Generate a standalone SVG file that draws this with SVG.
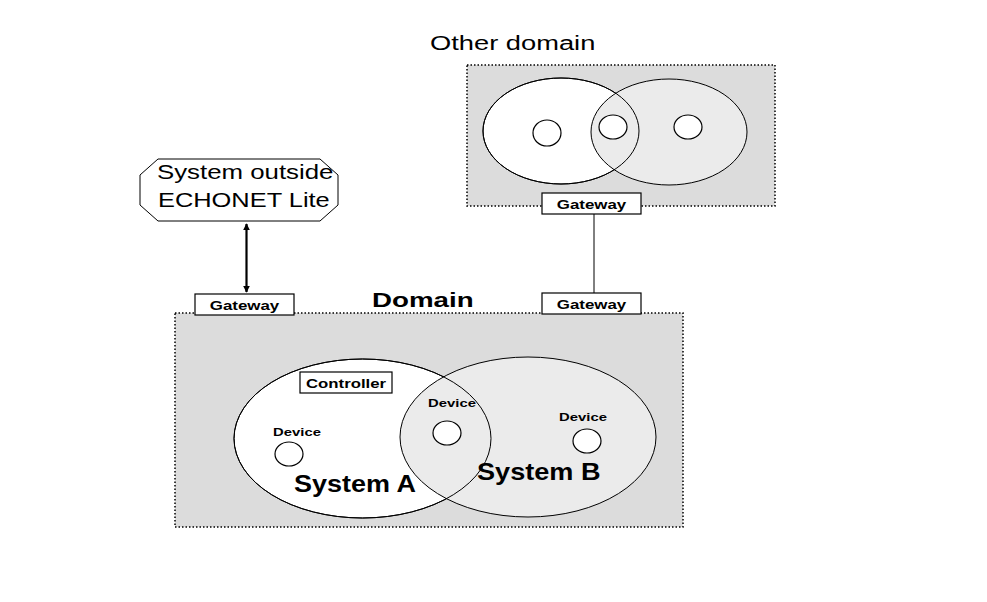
<svg xmlns="http://www.w3.org/2000/svg" width="987" height="602" viewBox="0 0 987 602">
<style>
text{font-family:"Liberation Sans",Arial,sans-serif;fill:#000}
.b{font-weight:bold}
.dom{fill:#dcdcdc;stroke:#000;stroke-width:1.5;stroke-dasharray:1.5 2}
.box{fill:#fff;stroke:#000;stroke-width:1.2}
.el{stroke:#000;stroke-width:1}
.c{fill:#fff;stroke:#000;stroke-width:1.2}
.gw{font-size:13px;font-weight:bold;text-anchor:middle}
.dv{font-size:11.5px;font-weight:bold;text-anchor:middle}
</style>
<defs>
<marker id="ah" viewBox="0 0 10 10" refX="9" refY="5" markerWidth="3" markerHeight="3" orient="auto-start-reverse">
<path d="M0,0 L10,5 L0,10 z" fill="#000"/>
</marker>
</defs>
<rect width="987" height="602" fill="#fff"/>

<g id="other-domain">
<text transform="translate(430,50) scale(1.3,1)" font-size="21">Other domain</text>
<rect class="dom" x="467" y="65" width="308" height="141"/>
<ellipse cx="561" cy="131" rx="78" ry="53" fill="#fff" class="el"/>
<ellipse cx="669" cy="132" rx="78" ry="53" fill="#ebebeb" class="el"/>
<ellipse cx="561" cy="131" rx="78" ry="53" fill="none" class="el"/>
<ellipse class="c" cx="547" cy="133" rx="14" ry="13"/>
<ellipse class="c" cx="613" cy="127" rx="14" ry="12"/>
<ellipse class="c" cx="688" cy="127" rx="14" ry="12"/>
</g>

<g id="gateway-other">
<rect class="box" x="542" y="193" width="99" height="21"/>
<text class="gw" transform="translate(591.5,209) scale(1.3,1)">Gateway</text>
</g>

<g id="outside-system">
<polygon points="158,159 320,159 338,175 338,205 320,221 158,221 140,205 140,175" fill="#fff" stroke="#000" stroke-width="1"/>
<text transform="translate(157,179) scale(1.23,1)" font-size="21">System outside</text>
<text transform="translate(158,207) scale(1.21,1)" font-size="21">ECHONET Lite</text>
</g>

<g id="domain">
<rect class="dom" x="175" y="313" width="508" height="214"/>
<text class="b" transform="translate(372,307) scale(1.32,1)" font-size="21">Domain</text>
</g>

<g id="system-a">
<ellipse cx="362.5" cy="438.5" rx="128.5" ry="79.5" fill="#fff" class="el"/>
</g>
<g id="system-b">
<ellipse cx="528" cy="437" rx="128" ry="80" fill="#ebebeb" class="el"/>
</g>
<g id="system-a-outline">
<ellipse cx="362.5" cy="438.5" rx="128.5" ry="79.5" fill="none" class="el"/>
<text class="b" transform="translate(294,492) scale(1.125,1)" font-size="24">System A</text>
</g>
<g id="system-b-label">
<text class="b" transform="translate(477,480) scale(1.13,1)" font-size="24">System B</text>
</g>

<g id="controller">
<rect class="box" x="300" y="372" width="92" height="21"/>
<text class="gw" transform="translate(346,388) scale(1.29,1)">Controller</text>
</g>

<g id="device-a">
<text class="dv" transform="translate(297,436) scale(1.29,1)">Device</text>
<ellipse class="c" cx="289" cy="454" rx="14" ry="12"/>
</g>
<g id="device-ab">
<text class="dv" transform="translate(452,407) scale(1.29,1)">Device</text>
<ellipse class="c" cx="447" cy="433" rx="14" ry="12"/>
</g>
<g id="device-b">
<text class="dv" transform="translate(583,421) scale(1.29,1)">Device</text>
<ellipse class="c" cx="587" cy="441" rx="14" ry="12"/>
</g>

<g id="gateway-left">
<rect class="box" x="195" y="294" width="99" height="21"/>
<text class="gw" transform="translate(244.5,310) scale(1.3,1)">Gateway</text>
</g>
<g id="gateway-right">
<rect class="box" x="542" y="293" width="99" height="21" stroke="#333"/>
<text class="gw" transform="translate(591.5,309) scale(1.3,1)">Gateway</text>
</g>

<g id="connectors">
<line x1="246.5" y1="224" x2="246.5" y2="292" stroke="#000" stroke-width="2.2" marker-start="url(#ah)" marker-end="url(#ah)"/>
<line x1="594" y1="214" x2="594" y2="293" stroke="#000" stroke-width="1"/>
</g>
</svg>
